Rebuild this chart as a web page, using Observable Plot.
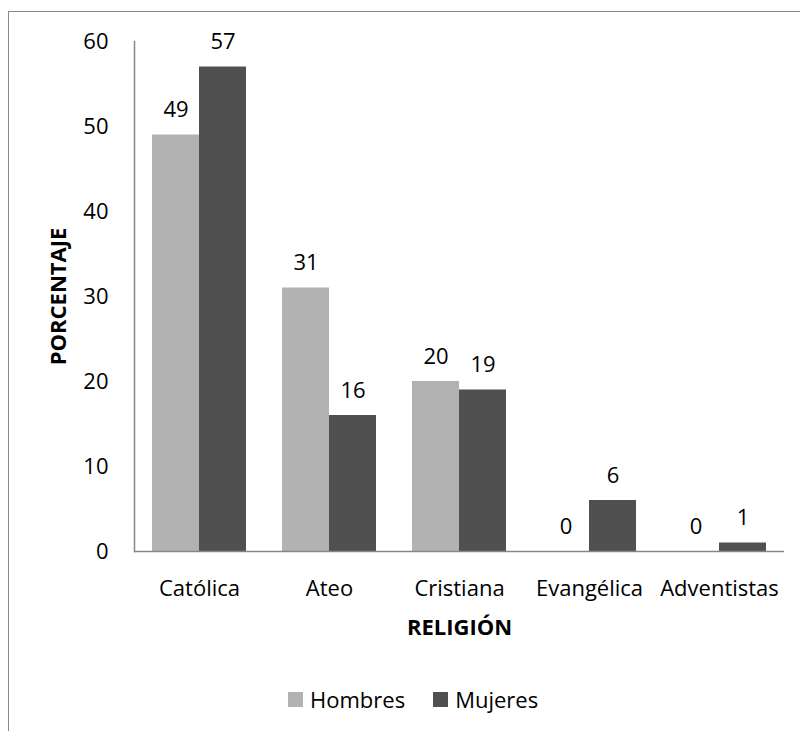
<!DOCTYPE html>
<html>
<head>
<meta charset="utf-8">
<script src="https://cdn.jsdelivr.net/npm/d3@7"></script>
<script src="https://cdn.jsdelivr.net/npm/@observablehq/plot@0.6"></script>
<style>
  html, body { margin: 0; padding: 0; background: #fff; }
  #wrap { position: relative; width: 800px; height: 731px; overflow: hidden; font-family: "Open Sans", sans-serif; }
  #frame { position: absolute; left: 8px; top: 11px; width: 900px; height: 900px; border: 1px solid #8a8a8a; box-sizing: border-box; }
  #chart { position: absolute; left: 0; top: 0; }
  #legend { position: absolute; left: 288px; top: 684px; display: flex; align-items: center; font-size: 22px; color: #000; }
  .sw { width: 15px; height: 15px; display: inline-block; margin-right: 7px; }
  .item { display: flex; align-items: center; margin-right: 28px; }
</style>
</head>
<body>
<div id="wrap">
  <div id="frame"></div>
  <div id="chart"></div>
  <div id="legend"></div>
</div>
<script>
const categories = ["Católica", "Ateo", "Cristiana", "Evangélica", "Adventistas"];
const hombres = [49, 31, 20, 0, 0];
const mujeres = [57, 16, 19, 6, 1];
const series = ["Hombres", "Mujeres"];
const colors = ["#b2b2b2", "#505050"];
const yTicks = [0, 10, 20, 30, 40, 50, 60];

const dataH = categories.map((c, i) => ({cat: c, value: hombres[i]}));
const dataM = categories.map((c, i) => ({cat: c, value: mujeres[i]}));

const half = 47;

const chart = Plot.plot({
  width: 800,
  height: 680,
  marginTop: 41,
  marginBottom: 129,
  marginLeft: 134,
  marginRight: 16,
  style: {fontFamily: "Open Sans, sans-serif", fontSize: "22px", color: "#000", background: "transparent"},
  x: {domain: categories, paddingInner: 0.277, paddingOuter: 0.1385, label: null},
  y: {domain: [0, 60], ticks: yTicks, label: null},
  marks: [
    Plot.axisY({ticks: yTicks, tickSize: 0, tickPadding: 26, label: null, fontSize: 22}),
    Plot.axisX({tickSize: 0, tickPadding: 29, label: null, fontSize: 22}),
    Plot.barY(dataH, {x: "cat", y: "value", fill: colors[0], insetRight: half}),
    Plot.barY(dataM, {x: "cat", y: "value", fill: colors[1], insetLeft: half}),
    Plot.text(dataH, {x: "cat", y: "value", text: d => String(d.value), dx: -half / 2, dy: -18, lineAnchor: "bottom", fontSize: 22, fill: "#000"}),
    Plot.text(dataM, {x: "cat", y: "value", text: d => String(d.value), dx: half / 2, dy: -18, lineAnchor: "bottom", fontSize: 22, fill: "#000"}),
    Plot.frame({anchor: "left", stroke: "#868686", strokeWidth: 1.5}),
    Plot.ruleY([0], {stroke: "#868686", strokeWidth: 1.5}),
    Plot.text(["RELIGIÓN"], {frameAnchor: "bottom", dy: 83, lineAnchor: "bottom", fontWeight: "bold", fontSize: 22, fill: "#000"}),
    Plot.text(["PORCENTAJE"], {frameAnchor: "left", dx: -84, rotate: -90, textAnchor: "middle", lineAnchor: "top", fontWeight: "bold", fontSize: 22, fill: "#000"})
  ]
});
document.getElementById("chart").appendChild(chart);

const legend = document.getElementById("legend");
series.forEach((s, i) => {
  const item = document.createElement("div");
  item.className = "item";
  const sw = document.createElement("span");
  sw.className = "sw";
  sw.style.background = colors[i];
  const lab = document.createElement("span");
  lab.textContent = s;
  item.appendChild(sw);
  item.appendChild(lab);
  legend.appendChild(item);
});
</script>
</body>
</html>
